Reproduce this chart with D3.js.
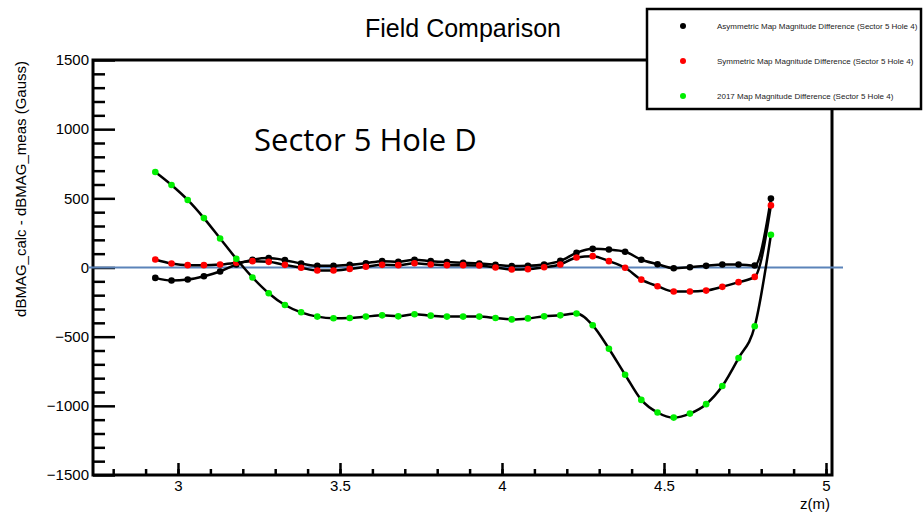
<!DOCTYPE html>
<html>
<head>
<meta charset="utf-8">
<script src="https://cdn.jsdelivr.net/npm/d3@7"></script>
<style>
  body { margin: 0; background: #fff; }
  svg { display: block; font-family: "Liberation Sans", Arial, sans-serif; }
</style>
</head>
<body>
<div id="chart"></div>
<script>
// z positions (m) of the measured points
var zVals = [2.93, 2.98, 3.03, 3.08, 3.13, 3.18, 3.23, 3.28, 3.33, 3.38,
             3.43, 3.48, 3.53, 3.58, 3.63, 3.68, 3.73, 3.78, 3.83, 3.88,
             3.93, 3.98, 4.03, 4.08, 4.13, 4.18, 4.23, 4.28, 4.33, 4.38,
             4.43, 4.48, 4.53, 4.58, 4.63, 4.68, 4.73, 4.78, 4.83];

// Asymmetric map (black)
var asymVals = [-75, -94, -87, -63, -29, 22, 56, 68, 53, 29,
                12, 12, 19, 31, 46, 41, 56, 46, 39, 34,
                29, 19, 10, 12, 22, 48, 106, 135, 130, 114,
                56, 24, -5, 2, 12, 22, 22, 14, 498];

// Symmetric map (red)
var symVals = [58, 29, 17, 17, 22, 34, 46, 41, 19, -2,
               -22, -22, -10, 5, 19, 17, 31, 22, 17, 17,
               14, 0, -14, -12, 2, 22, 72, 82, 46, -2,
               -88, -135, -174, -174, -167, -140, -106, -68, 449];

// 2017 map (green)
var map2017Vals = [690, 596, 488, 357, 210, 63, -72, -186, -271, -324,
                   -355, -367, -365, -355, -346, -353, -338, -348, -355, -355,
                   -355, -365, -375, -368, -353, -346, -333, -418, -587, -775,
                   -957, -1048, -1085, -1056, -988, -857, -655, -425, 237];

var legendLabels = ["Asymmetric Map Magnitude Difference (Sector 5 Hole 4)",
                    "Symmetric Map Magnitude Difference (Sector 5 Hole 4)",
                    "2017 Map Magnitude Difference (Sector 5 Hole 4)"];
var seriesColors = ["#000000", "#ff0000", "#00ee00"];

var yMajor = [-1500, -1000, -500, 0, 500, 1000, 1500];
var xMajor = [3, 3.5, 4, 4.5, 5];

function init(){
    var w = 923, h = 514;
    var svg = d3.select("#chart").append("svg")
        .attr("width", w)
        .attr("height", h);

    var left = 93, right = 832, top = 60, bottom = 475;

    var x = d3.scaleLinear().domain([2.7377, 5.0185]).range([left, right]);
    var y = d3.scaleLinear().domain([-1500, 1500]).range([bottom, top]);

    // minor ticks
    var yMinor = d3.range(-1500, 1501, 100).filter(d => yMajor.indexOf(d) < 0);
    var xMinor = d3.range(28, 51, 1).map(d => d / 10).filter(d => x(d) <= right);

    svg.append("g")
        .attr("transform", "translate(" + left + ",0)")
        .call(d3.axisLeft(y).tickValues(yMinor).tickSize(-12).tickFormat(""))
        .call(g => g.select(".domain").remove())
        .call(g => g.selectAll("line").attr("stroke-width", 2.5));

    svg.append("g")
        .attr("transform", "translate(" + left + ",0)")
        .call(d3.axisLeft(y).tickValues(yMajor).tickSize(-22).tickPadding(4).tickFormat(d3.format("d")))
        .call(g => g.select(".domain").remove())
        .call(g => g.selectAll("line").attr("stroke-width", 2.5))
        .call(g => g.selectAll("text").attr("font-size", 15).attr("fill", "#000")
              .attr("font-family", "'Liberation Sans', Arial, sans-serif"));

    svg.append("g")
        .attr("transform", "translate(0," + bottom + ")")
        .call(d3.axisBottom(x).tickValues(xMinor).tickSize(-6).tickFormat(""))
        .call(g => g.select(".domain").remove())
        .call(g => g.selectAll("line").attr("stroke-width", 2.5));

    svg.append("g")
        .attr("transform", "translate(0," + bottom + ")")
        .call(d3.axisBottom(x).tickValues(xMajor).tickSize(-12).tickPadding(5).tickFormat(d3.format("")))
        .call(g => g.select(".domain").remove())
        .call(g => g.selectAll("line").attr("stroke-width", 2.5))
        .call(g => g.selectAll("text").attr("font-size", 15).attr("fill", "#000")
              .attr("font-family", "'Liberation Sans', Arial, sans-serif"));

    // frame
    svg.append("rect")
        .attr("x", left).attr("y", top)
        .attr("width", right - left).attr("height", bottom - top)
        .attr("fill", "none").attr("stroke", "#000").attr("stroke-width", 3);

    // zero reference line
    svg.append("line")
        .attr("x1", 88).attr("x2", 843)
        .attr("y1", y(0)).attr("y2", y(0))
        .attr("stroke", "#5b83b9").attr("stroke-width", 2);

    var line = d3.line()
        .x(d => x(d[0]))
        .y(d => y(d[1]))
        .curve(d3.curveMonotoneX);

    var allSeries = [asymVals, symVals, map2017Vals];
    allSeries.forEach(function(vals, k){
        var pts = zVals.map((z, i) => [z, vals[i]]);
        svg.append("path")
            .datum(pts)
            .attr("d", line)
            .attr("fill", "none")
            .attr("stroke", "#000")
            .attr("stroke-width", 2.5);
        svg.append("g").selectAll("circle")
            .data(pts)
            .enter()
            .append("circle")
            .attr("cx", d => x(d[0]))
            .attr("cy", d => y(d[1]))
            .attr("r", 3.3)
            .attr("fill", seriesColors[k]);
    });

    // title
    svg.append("text")
        .attr("x", 463).attr("y", 37)
        .attr("text-anchor", "middle")
        .attr("font-size", 25)
        .text("Field Comparison");

    svg.append("text")
        .attr("x", 254).attr("y", 151)
        .attr("font-family", "'Open Sans', sans-serif")
        .attr("font-size", 31)
        .text("Sector 5 Hole D");

    // axis titles
    svg.append("text")
        .attr("transform", "translate(26,61) rotate(-90)")
        .attr("text-anchor", "end")
        .attr("font-size", 15)
        .text("dBMAG_calc - dBMAG_meas (Gauss)");

    svg.append("text")
        .attr("x", 830).attr("y", 509)
        .attr("text-anchor", "end")
        .attr("font-size", 15)
        .text("z(m)");

    // legend
    var lg = svg.append("g");
    lg.append("rect")
        .attr("x", 647).attr("y", 9)
        .attr("width", 274).attr("height", 100)
        .attr("fill", "#fff").attr("stroke", "#000").attr("stroke-width", 2.5);
    legendLabels.forEach(function(t, k){
        var ly = 26 + k * 35;
        lg.append("circle")
            .attr("cx", 683).attr("cy", ly).attr("r", 3)
            .attr("fill", seriesColors[k]);
        lg.append("text")
            .attr("x", 717).attr("y", ly)
            .attr("dy", "0.35em")
            .attr("font-size", 8)
            .attr("fill", "#222")
            .text(t);
    });
}
window.onload = init;
</script>
</body>
</html>
